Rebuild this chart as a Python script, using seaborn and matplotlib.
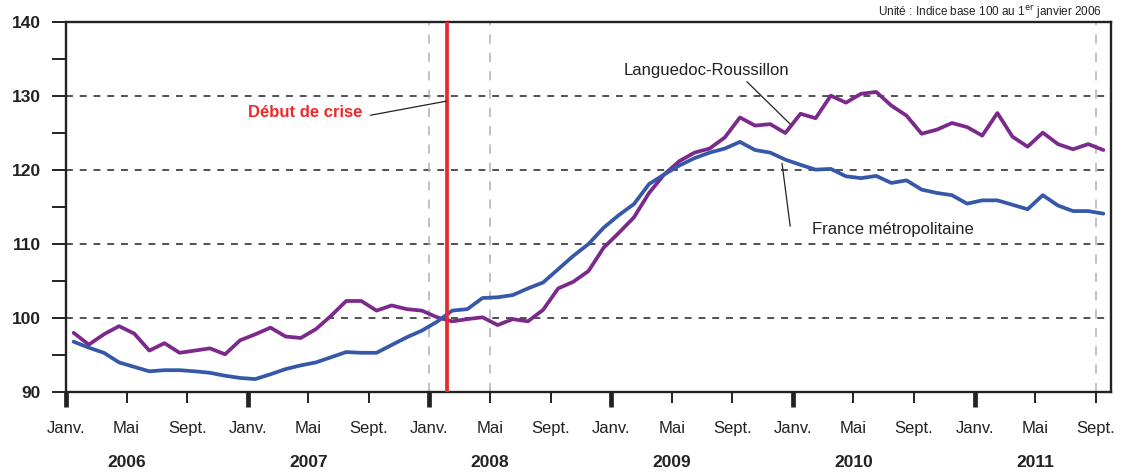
import numpy as np
import pandas as pd
import matplotlib
matplotlib.use("Agg")
import matplotlib.pyplot as plt
import matplotlib.transforms as mtransforms
import seaborn as sns

# ========================== DATA ==========================
# monthly index, base 100 = 1er janvier 2006, Janv. 2006 -> Sept. 2011
n_months = 69
languedoc = [98.0, 96.4, 97.8, 98.9, 97.9, 95.6, 96.6, 95.3, 95.6, 95.9, 95.1, 97.0,
             97.8, 98.7, 97.5, 97.3, 98.5, 100.3, 102.3, 102.3, 101.0, 101.7, 101.2, 101.0,
             100.1, 99.55, 99.85, 100.1, 99.05, 99.85, 99.55, 101.1, 104.0, 104.9, 106.35, 109.5,
             111.5, 113.6, 116.9, 119.4, 121.2, 122.35, 122.9, 124.4, 127.1, 126.0, 126.2, 125.0,
             127.6, 127.0, 130.05, 129.1, 130.3, 130.55, 128.7, 127.35, 124.9, 125.45, 126.35, 125.8,
             124.65, 127.7, 124.5, 123.15, 125.05, 123.5, 122.8, 123.5, 122.7]
france = [96.8, 96.0, 95.3, 94.0, 93.4, 92.8, 92.95, 92.95, 92.8, 92.6, 92.2, 91.9,
          91.75, 92.4, 93.1, 93.6, 94.0, 94.7, 95.4, 95.3, 95.3, 96.35, 97.4, 98.3,
          99.5, 101.0, 101.2, 102.7, 102.8, 103.1, 104.0, 104.8, 106.6, 108.4, 110.0, 112.2,
          113.9, 115.4, 118.1, 119.4, 120.6, 121.6, 122.35, 122.9, 123.8, 122.7, 122.35, 121.4,
          120.7, 120.05, 120.15, 119.15, 118.9, 119.2, 118.25, 118.6, 117.35, 116.9, 116.6, 115.45,
          115.9, 115.9, 115.3, 114.7, 116.6, 115.2, 114.45, 114.45, 114.1]

month_labels = ["Janv.", "Mai", "Sept."]
years = ["2006", "2007", "2008", "2009", "2010", "2011"]
crisis_month = 25.17          # position of "Début de crise" (months from Janv. 2006)
y_grid = [100, 110, 120, 130]
v_grid = [24, 28, 68]         # grey dashed verticals (month index)

# ========================== PLOT ==========================
sns.set_style("ticks")
plt.rcParams["font.family"] = ["Liberation Sans", "DejaVu Sans"]

purple = "#7b2a8c"
blue = "#3658a8"
red = "#ea2a2a"
ink = "#222222"

x = np.arange(n_months) + 0.5
df = pd.DataFrame({
    "mois": np.concatenate([x, x]),
    "indice": languedoc + france,
    "zone": ["Languedoc-Roussillon"] * n_months + ["France métropolitaine"] * n_months,
})

fig = plt.figure(figsize=(11.29, 4.73), dpi=100)
ax = fig.add_axes([0.0585, 0.1712, 0.9255, 0.7823])

for y in y_grid:
    ax.axhline(y, color=ink, lw=1.1, ls=(0, (4.5, 4.5)), zorder=1)
for xv in v_grid:
    ax.axvline(xv, color="#b0b0b0", lw=1.1, ls=(0, (6, 6)), zorder=1)

sns.lineplot(data=df, x="mois", y="indice", hue="zone",
             palette={"Languedoc-Roussillon": purple, "France métropolitaine": blue},
             linewidth=2.7, legend=False, ax=ax, zorder=3)

ax.axvline(crisis_month, color=red, lw=2.7, zorder=4)

ax.set_xlim(0, n_months)
ax.set_ylim(90, 140)
ax.set_xlabel("")
ax.set_ylabel("")

# y axis
ax.set_yticks([90, 100, 110, 120, 130, 140])
ax.set_yticks([95, 105, 115, 125, 135], minor=True)
ax.tick_params(axis="y", which="both", direction="out", length=10, width=1.4, color=ink, pad=8)
for lab in ax.get_yticklabels():
    lab.set_fontweight("bold")
    lab.set_fontsize(12.5)
    lab.set_color(ink)

# x axis
xt = np.arange(0, n_months, 4)
ax.set_xticks(xt)
ax.set_xticklabels([month_labels[(i // 4) % 3] for i in xt], fontsize=12, color=ink)
ax.tick_params(axis="x", which="major", direction="out", length=8, width=1.4,
               color=ink, pad=13)
for t, pos in zip(ax.xaxis.get_major_ticks(), xt):
    if pos % 12 == 0:
        t.tick1line.set_markeredgewidth(3.4)
        t.tick1line.set_markersize(11)

trans = mtransforms.blended_transform_factory(ax.transData, ax.transAxes)
for k, yr in enumerate(years):
    ax.text(12 * k + 4, -0.19, yr, transform=trans, ha="center", va="center",
            fontsize=12.5, fontweight="bold", color=ink)

for side in ["left", "right", "top", "bottom"]:
    ax.spines[side].set_color(ink)
    ax.spines[side].set_linewidth(1.7)

# annotations (text + leader lines)
ax.text(15.8, 127.8, "Début de crise", color=red, fontsize=12, fontweight="bold",
        ha="center", va="center")
ax.plot([20.1, 25.1], [127.4, 129.3], color=ink, lw=0.9, zorder=5)

ax.text(42.3, 133.4, "Languedoc-Roussillon", color=ink, fontsize=12,
        ha="center", va="center")
ax.plot([44.96, 47.82], [131.93, 126.2], color=ink, lw=0.9, zorder=5)

ax.text(54.6, 111.9, "France métropolitaine", color=ink, fontsize=12,
        ha="center", va="center")
ax.plot([47.28, 47.82], [120.9, 112.4], color=ink, lw=0.9, zorder=5)

fig.text(0.976, 0.992, r"Unité : Indice base 100 au 1$^{\mathrm{er}}$ janvier 2006",
         ha="right", va="top", fontsize=8.5, color=ink)

fig.savefig("out.png", dpi=100)
